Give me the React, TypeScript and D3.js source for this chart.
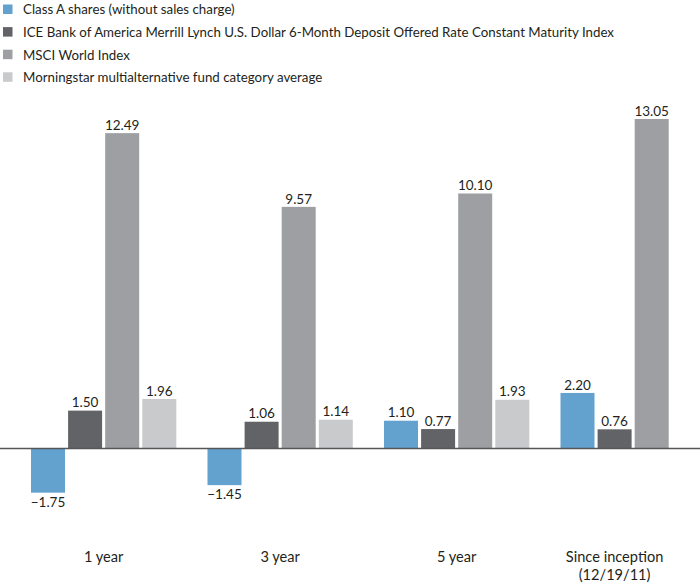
import React from "react";
import * as d3 from "d3";

const categories = ["1 year", "3 year", "5 year", "Since inception\n(12/19/11)"];
const seriesNames = [
  "Class A shares (without sales charge)",
  "ICE Bank of America Merrill Lynch U.S. Dollar 6-Month Deposit Offered Rate Constant Maturity Index",
  "MSCI World Index",
  "Morningstar multialternative fund category average",
];
const classA = [-1.75, -1.45, 1.1, 2.2];
const iceBofA = [1.5, 1.06, 0.77, 0.76];
const msci = [12.49, 9.57, 10.1, 13.05];
const morningstar: (number | null)[] = [1.96, 1.14, 1.93, null];
const colors = ["#63a1cf", "#626366", "#9e9fa3", "#c9cacc"];

const W = 700;
const H = 585;
const FONT = "Lato, Roboto, sans-serif";

export default function App() {
  const series = [classA, iceBofA, msci, morningstar];
  const x0 = d3.scaleBand().domain(categories).range([31, 705.8]).paddingInner(0.1768).paddingOuter(0);
  const y = d3.scaleLinear().domain([0, 13.05]).range([448.5, 119]);
  const bandW = x0.bandwidth();
  const x1 = d3.scaleBand().domain(d3.range(4).map(String)).range([0, bandW]).paddingInner(0.0836).paddingOuter(0);

  return (
    <svg width={W} height={H} style={{ position: "absolute", left: 0, top: 0, background: "#fff" }}>
      <g fontFamily={FONT}>
        {seriesNames.map((n, i) => (
          <g key={i} transform={`translate(0, ${9.5 + i * 22.6})`}>
            <rect x={3} y={-5} width={9.5} height={9.5} fill={colors[i]} />
            <text x={23} y={4.8} fontSize={13.3} fill="#231f20">{n}</text>
          </g>
        ))}
        {categories.map((c, ci) => {
          const present = series.map((s, si) => (s[ci] == null ? -1 : si)).filter((si) => si >= 0);
          const left = x1(String(present[0]))!;
          const right = x1(String(present[present.length - 1]))! + x1.bandwidth();
          const cx = (left + right) / 2;
          return (
            <g key={c} transform={`translate(${x0(c)},0)`}>
              {series.map((s, si) => {
                const v = s[ci];
                if (v == null) return null;
                const bx = x1(String(si))!;
                const top = y(Math.max(0, v));
                const h = Math.abs(y(v) - y(0));
                return (
                  <g key={si}>
                    <rect x={bx} y={top} width={x1.bandwidth()} height={h} fill={colors[si]} />
                    <text
                      x={bx + x1.bandwidth() / 2}
                      y={v >= 0 ? y(v) - 3.3 : y(v) + 14}
                      textAnchor="middle"
                      fontSize={13.5}
                      fill="#231f20"
                    >
                      {v < 0 ? "\u2212" + d3.format(".2f")(-v) : d3.format(".2f")(v)}
                    </text>
                  </g>
                );
              })}
              {c.split("\n").map((line, li) => (
                <text key={li} x={cx} y={561.5 + li * 18.5} textAnchor="middle" fontSize={14.6} fill="#231f20">
                  {line}
                </text>
              ))}
            </g>
          );
        })}
        <line x1={0} x2={W} y1={y(0)} y2={y(0)} stroke="#555659" strokeWidth={1.5} />
      </g>
    </svg>
  );
}
